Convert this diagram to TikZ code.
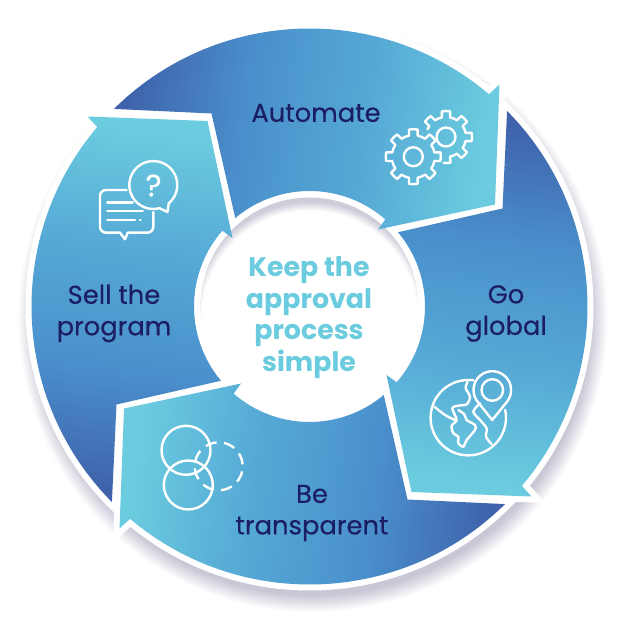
\documentclass[tikz,border=0pt]{standalone}
\usepackage{fontspec}
\setmainfont{Poppins}
\newfontfamily\labelfont{Poppins}[FakeBold=0.3]
\usetikzlibrary{positioning}
\definecolor{tailblue}{HTML}{3F62AA}
\definecolor{midblue}{HTML}{4A90CC}
\definecolor{lightblue}{HTML}{55A8D5}
\definecolor{headcyan}{HTML}{6BCCDF}
\definecolor{navy}{HTML}{1B1E63}
\definecolor{shadowgray}{HTML}{C9C7D5}
\definecolor{innergray}{HTML}{CDCCD9}
\pgfdeclareradialshading{ringshadow}{\pgfpoint{0bp}{0bp}}{
  color(0bp)=(shadowgray); color(22.7bp)=(shadowgray); color(24.1bp)=(white); color(50bp)=(white)}
\pgfdeclareradialshading{innershadow}{\pgfpoint{0bp}{0bp}}{
  color(0bp)=(white); color(21.6bp)=(white); color(23.4bp)=(innergray); color(50bp)=(innergray)}
\pgfdeclarehorizontalshading{arrowfill}{100bp}{
  color(0bp)=(tailblue); color(25bp)=(tailblue); color(42bp)=(midblue); color(58bp)=(lightblue);
  color(75bp)=(headcyan); color(100bp)=(headcyan)}
\begin{document}
\begin{tikzpicture}[
  x=1pt, y=1pt,
  segment/.style={shading=arrowfill},
  gapline/.style={draw=white, line width=12pt, line join=miter, miter limit=10},
  icon/.style={draw=white, line width=2.4pt, line join=round, line cap=round},
  label/.style={text=navy, align=center, font=\labelfont\fontsize{25.8}{31.5}\selectfont},
  hub/.style={text=headcyan, align=center, font=\fontsize{26.8}{31.5}\selectfont\bfseries}
]
\useasboundingbox (0,0) rectangle (630,630);
\coordinate (centre) at (309.5,323.5);
% shadows first
\shade[shading=ringshadow] (312.5,313) circle (306);
\fill[white] (centre) circle (115);
% the four arrows
\newcommand{\arrowpath}{
  (134.7:278) arc[start angle=134.7, end angle=49.8, radius=278]
  -- (190,222) -- (185.5,102) -- (68.5,77)
  -- (49:115.5) arc[start angle=49, end angle=130, radius=115.5]
  -- (-98,193) -- cycle}
\foreach \turn in {0,-90,-180,-270}
  \path[gapline, shift={(centre)}, rotate=\turn] \arrowpath;
\begin{scope}
  \clip (centre) circle (109);
  \shade[shading=innershadow] (309.5,311.5) circle (125);
\end{scope}
\foreach \turn [evaluate=\turn as \tilt using \turn-8] in {0,-90,-180,-270}
  \shade[segment, shading angle=\tilt, shift={(centre)}, rotate=\turn] \arrowpath;
% gears
\newcommand{\gearpath}[5]{% start angle, teeth, step, outer, inner
  (#1:#5) \foreach \i in {1,...,#2} {
    arc[start angle=#1+\i*#3-#3, end angle=#1+\i*#3-0.76*#3, radius=#5]
    -- (#1+\i*#3-0.70*#3:#4)
    arc[start angle=#1+\i*#3-0.70*#3, end angle=#1+\i*#3-0.30*#3, radius=#4]
    -- (#1+\i*#3-0.24*#3:#5)
    arc[start angle=#1+\i*#3-0.24*#3, end angle=#1+\i*#3, radius=#5]}}
\draw[icon, shift={(413.3,473.3)}] \gearpath{-22.5}{8}{45}{27.5}{21.5} -- cycle;
\draw[icon, shift={(413.3,473.3)}] (0,0) circle (9.5);
\draw[icon, shift={(446,493)}] \gearpath{157.5}{5}{-45}{26}{20}
  arc[start angle=-67.5, end angle=-78, radius=20] -- (-80:26) arc[start angle=-80, end angle=-95, radius=26];
\draw[icon, shift={(446,493)}] (0,0) circle (9.5);
% chat bubbles
\draw[icon] (153.3,445) ++(-50:24) arc[start angle=-50, end angle=285, radius=24] -- (167.5,418) -- cycle;
\draw[icon, rounded corners=6pt] (126.7,440) -- (100,440) -- (100,397.3) -- (120,397.3);
\draw[icon] (120,397.3) -- (125,390.7) -- (127.7,397.3);
\draw[icon, rounded corners=6pt] (127.7,397.3) -- (153.3,397.3) -- (153.3,418);
\draw[icon] (107.3,427.3) -- (132.7,427.3) (107.3,419) -- (142.7,419) (107.3,410) -- (135,410) (140,410) -- (140.5,410);
\node[text=white, font=\labelfont\fontsize{31}{31}\selectfont] (question) at (153.5,444.5) {?};
% globe
\draw[icon] (468.3,212.3) ++(82:37.7) arc[start angle=82, end angle=372, radius=37.7];
\draw[icon] (492.3,240) ++(-40:18.8) arc[start angle=-40, end angle=220, radius=18.8] -- (492.3,210) -- cycle;
\draw[icon] (492.3,240) circle (10.8);
\begin{scope}[x=0.3333pt, y=-0.3333pt, shift={(425pt,265pt)}]
  \draw[icon] plot[smooth] coordinates {(28,125) (60,150) (92,166)};
  \draw[icon] plot[smooth] coordinates {(128,50) (122,70) (135,95) (125,118) (100,122) (82,130) (95,165) (80,182) (85,205) (100,215) (100,235) (115,245) (125,225) (150,195) (150,180) (125,165) (118,148) (100,135)};
  \draw[icon] plot[smooth] coordinates {(165,115) (145,140) (165,165) (185,190) (183,215) (200,238)};
\end{scope}
% circles
\draw[icon] (186,179.7) circle (24.5);
\draw[icon] (188.3,145) circle (24.5);
\draw[icon, line cap=butt, dash pattern=on 11.5pt off 7.35pt, dash phase=16.85pt] (218.7,163.7) circle (24);
% labels
\node[label] (automate) at (316,517) {Automate};
\node[label] (goglobal) at (506,316.5) {Go\\global};
\node[label] (transparent) at (312,117) {Be\\transparent};
\node[label] (sell) at (114,316.5) {Sell the\\program};
\node[hub] (keep) at (309,312.5) {Keep the\\approval\\process\\simple};
\end{tikzpicture}
\end{document}
